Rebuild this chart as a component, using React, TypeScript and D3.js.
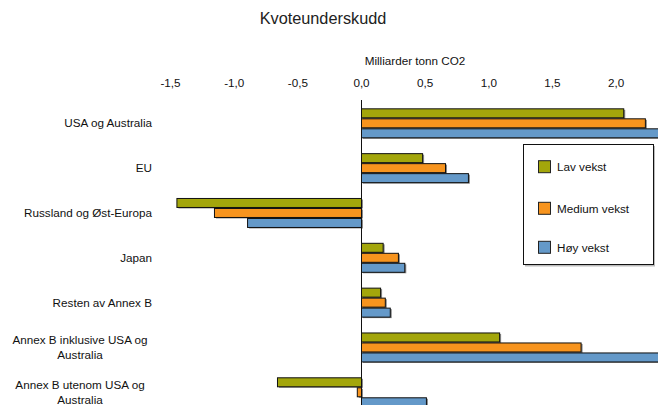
import React from "react";
import * as d3 from "d3";

const categories = [
  ["USA og Australia"],
  ["EU"],
  ["Russland og Øst-Europa"],
  ["Japan"],
  ["Resten av Annex B"],
  ["Annex B inklusive USA og", "Australia"],
  ["Annex B utenom USA og", "Australia"],
];
const seriesNames = ["Lav vekst", "Medium vekst", "Høy vekst"];
const seriesColors = ["#A3A60B", "#F7941E", "#6499C9"];
const lavVekst = [2.06, 0.48, -1.45, 0.17, 0.15, 1.085, -0.66];
const mediumVekst = [2.23, 0.66, -1.155, 0.29, 0.187, 1.725, -0.033];
const hoyVekst = [2.45, 0.84, -0.895, 0.34, 0.226, 2.5, 0.51];
const seriesValues = [lavVekst, mediumVekst, hoyVekst];
const ticks = [-1.5, -1.0, -0.5, 0.0, 0.5, 1.0, 1.5, 2.0];

const W = 658;
const H = 405;
const FONT = "'Liberation Sans', Arial, sans-serif";

export default function App() {
  const x = d3.scaleLinear().domain([-1.6, 2.33]).range([361.5 - 127.3 * 1.6, 361.5 + 127.3 * 2.33]);
  const keys = categories.map((c) => c.join(" "));
  const y = d3.scaleBand().domain(keys).range([100.9, 414.7]).paddingInner(0.331).paddingOuter(0.1655);
  const ys = d3.scaleBand().domain(seriesNames).range([0, y.bandwidth()]);
  const fmt = (v: number) => d3.format(".1f")(v).replace(".", ",").replace("−", "-");

  return (
    <svg width={W} height={H} style={{ position: "fixed", left: 0, top: 0, background: "#fff" }}
      xmlns="http://www.w3.org/2000/svg" fontFamily={FONT}>
      <rect x={0} y={0} width={W} height={H} fill="#fff" />
      <text x={323} y={24} textAnchor="middle" fontSize={16.3} fill="#222">Kvoteunderskudd</text>
      <text x={415} y={65} textAnchor="middle" fontSize={11.7} fill="#111">Milliarder tonn CO2</text>
      {ticks.map((t) => (
        <text key={t} x={x(t)} y={87} textAnchor="middle" fontSize={11.7} fill="#111">{fmt(t)}</text>
      ))}
      {categories.map((c, ci) => {
        const cy = (y(keys[ci]) as number) + y.bandwidth() / 2;
        const n = c.length;
        return (
          <text key={ci} textAnchor="middle" fontSize={11.7} fill="#111">
            {c.map((line, li) => (
              <tspan key={li} x={n > 1 ? 80 : 152} textAnchor={n > 1 ? "middle" : "end"}
                y={cy + 4 + (li - (n - 1) / 2) * 15}>{line}</tspan>
            ))}
          </text>
        );
      })}
      {seriesNames.map((s, si) =>
        seriesValues[si].map((v, ci) => {
          const by = (y(keys[ci]) as number) + (ys(s) as number);
          const x0 = x(Math.min(0, v));
          const x1 = x(Math.max(0, v));
          return (
            <g key={s + ci}>
              <rect x={x0 + 1.5} y={by + 1.5} width={x1 - x0} height={9} fill="#8a8a8a" />
              <rect x={x0} y={by + 0.5} width={x1 - x0} height={9} fill={seriesColors[si]} stroke="#111" strokeWidth={1} />
            </g>
          );
        })
      )}
      <line x1={x(0)} x2={x(0)} y1={100} y2={H} stroke="#111" strokeWidth={1} />
      <g>
        <rect x={525} y={146} width={130} height={120.5} fill="#bbb" />
        <rect x={523.5} y={144.5} width={130} height={120} fill="#fff" stroke="#111" strokeWidth={1} />
        {seriesNames.map((s, si) => {
          const cy = [166.7, 208.3, 247.3][si];
          return (
            <g key={s}>
              <rect x={538.5} y={cy - 6} width={12} height={12} fill={seriesColors[si]} stroke="#222" strokeWidth={1} />
              <text x={557} y={cy + 4.2} fontSize={11.7} fill="#111">{s}</text>
            </g>
          );
        })}
      </g>
    </svg>
  );
}
